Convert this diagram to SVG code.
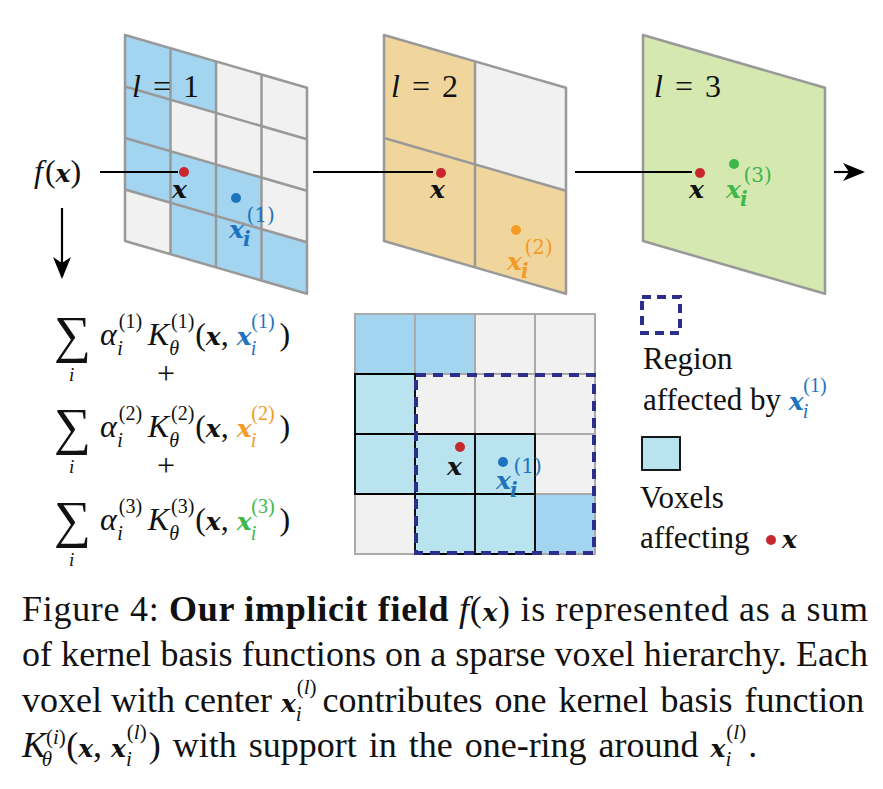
<svg xmlns="http://www.w3.org/2000/svg" width="883" height="789" viewBox="0 0 883 789">
<style>
.g{stroke:#999;stroke-width:2.5;stroke-linejoin:round}
.b{fill:#a3d4f0}.w{fill:#f1f1f1}.o{fill:#f0d69c}.gr{fill:#d4e8b0}.lb{fill:#b9e3ef}
.t{font-family:"Liberation Serif",serif;font-size:31px;fill:#111}
.m{font-family:"Liberation Serif",serif;font-style:italic;font-size:32px;fill:#111}
.bx{font-family:"DejaVu Serif","Liberation Serif",serif;font-style:italic;font-weight:bold;font-size:25px}
.s{font-size:20px;font-style:normal;font-weight:normal}
.si{font-size:20px}
.cap{font-family:"Liberation Serif",serif;font-size:36px;fill:#111}
.ln{stroke:#000;stroke-width:2.2;fill:none}
</style>
<defs>
<marker id="ah2" markerWidth="22" markerHeight="18" refX="20" refY="9" orient="auto" markerUnits="userSpaceOnUse" viewBox="0 0 22 18"><path d="M0,0 L22,9 L0,18 L6,9z" fill="#000"/></marker></defs>

<g id="grid1">
<g transform="matrix(1,0.29,0,1,125,35)">
<rect class="b" x="0" y="0" width="45.5" height="51.5"/><rect class="b" x="45.5" y="0" width="45.5" height="51.5"/><rect class="w" x="91" y="0" width="91" height="51.5"/>
<rect class="b" x="0" y="51.5" width="45.5" height="51.5"/><rect class="w" x="45.5" y="51.5" width="136.5" height="51.5"/>
<rect class="b" x="0" y="103" width="136.5" height="51.5"/><rect class="w" x="136.5" y="103" width="45.5" height="51.5"/>
<rect class="w" x="0" y="154.5" width="45.5" height="51.5"/><rect class="b" x="45.5" y="154.5" width="136.5" height="51.5"/>
<path class="g" fill="none" d="M0,0H182V206H0Z M45.5,0V206 M91,0V206 M136.5,0V206 M0,51.5H182 M0,103H182 M0,154.5H182" vector-effect="non-scaling-stroke"/>
</g>
<text class="m" x="132" y="97" font-size="33">l<tspan font-style="normal" dx="12">=</tspan><tspan font-style="normal" dx="12">1</tspan></text>
</g>

<g id="grid2">
<g transform="matrix(1,0.29,0,1,384,35)">
<rect class="o" x="0" y="0" width="91" height="103"/><rect class="w" x="91" y="0" width="91" height="103"/>
<rect class="o" x="0" y="103" width="182" height="103"/>
<path class="g" fill="none" d="M0,0H182V206H0Z M91,0V206 M0,103H182" vector-effect="non-scaling-stroke"/>
</g>
<text class="m" x="391" y="97" font-size="33">l<tspan font-style="normal" dx="12">=</tspan><tspan font-style="normal" dx="12">2</tspan></text>
</g>

<g id="grid3">
<g transform="matrix(1,0.29,0,1,643,35)">
<rect class="gr g" x="0" y="0" width="182" height="206" vector-effect="non-scaling-stroke"/>
</g>
<text class="m" x="654" y="97" font-size="33">l<tspan font-style="normal" dx="12">=</tspan><tspan font-style="normal" dx="12">3</tspan></text>
</g>

<g id="connectors">
<line class="ln" x1="100" y1="172" x2="178" y2="172"/>
<line class="ln" x1="313" y1="172" x2="433" y2="172"/>
<line class="ln" x1="575" y1="172" x2="692" y2="172"/>
<line class="ln" x1="834" y1="172" x2="863" y2="172" marker-end="url(#ah2)"/>
<line class="ln" x1="62" y1="208" x2="62" y2="277" marker-end="url(#ah2)"/>
</g>

<g id="points">
<circle cx="184" cy="172" r="5" fill="#c8282d"/>
<text class="bx" x="172" y="198" fill="#111">x</text>
<circle cx="236" cy="198" r="5" fill="#1e73be"/>
<text class="bx" x="229" y="238" fill="#1e73be">x<tspan class="si" dx="-1" dy="8">i</tspan><tspan class="s" dx="-4" dy="-24">(1)</tspan></text>
<circle cx="441" cy="173" r="5" fill="#c8282d"/>
<text class="bx" x="430" y="198" fill="#111">x</text>
<circle cx="516" cy="230" r="5" fill="#f39a27"/>
<text class="bx" x="507" y="270" fill="#f39a27">x<tspan class="si" dx="-1" dy="8">i</tspan><tspan class="s" dx="-4" dy="-24">(2)</tspan></text>
<circle cx="700" cy="173" r="5" fill="#c8282d"/>
<text class="bx" x="689" y="198" fill="#111">x</text>
<circle cx="734" cy="164" r="5" fill="#3db74a"/>
<text class="bx" x="726" y="198" fill="#3db74a">x<tspan class="si" dx="-1" dy="8">i</tspan><tspan class="s" dx="-4" dy="-24">(3)</tspan></text>
</g>

<g id="fx"><text class="m" x="34" y="182">f<tspan font-style="normal" dx="2">(</tspan><tspan class="bx">x</tspan><tspan font-style="normal">)</tspan></text></g>

<g id="formulas" class="m">
<g id="f1">
<text x="54" y="352" font-style="normal" font-size="52">∑</text><text x="69" y="381" font-size="19">i</text>
<text x="100" y="345">α<tspan class="s" dx="2" dy="-17">(1)</tspan><tspan class="si" dx="-25" dy="27">i</tspan><tspan dx="25" dy="-10">K</tspan><tspan class="s" dx="2" dy="-17">(1)</tspan><tspan class="si" dx="-25" dy="27">θ</tspan><tspan font-style="normal" dx="16" dy="-10">(</tspan><tspan class="bx">x</tspan><tspan font-style="normal">, </tspan><tspan class="bx" fill="#1e73be">x</tspan><tspan class="si" fill="#1e73be" dx="-1" dy="10">i</tspan><tspan class="s" fill="#1e73be" dx="-5" dy="-27">(1)</tspan><tspan font-style="normal" dx="5" dy="17">)</tspan></text>
</g>
<text x="157" y="384" font-style="normal">+</text>
<g id="f2">
<text x="54" y="444" font-style="normal" font-size="52">∑</text><text x="69" y="473" font-size="19">i</text>
<text x="100" y="437">α<tspan class="s" dx="2" dy="-17">(2)</tspan><tspan class="si" dx="-25" dy="27">i</tspan><tspan dx="25" dy="-10">K</tspan><tspan class="s" dx="2" dy="-17">(2)</tspan><tspan class="si" dx="-25" dy="27">θ</tspan><tspan font-style="normal" dx="16" dy="-10">(</tspan><tspan class="bx">x</tspan><tspan font-style="normal">, </tspan><tspan class="bx" fill="#f39a27">x</tspan><tspan class="si" fill="#f39a27" dx="-1" dy="10">i</tspan><tspan class="s" fill="#f39a27" dx="-5" dy="-27">(2)</tspan><tspan font-style="normal" dx="5" dy="17">)</tspan></text>
</g>
<text x="157" y="476" font-style="normal">+</text>
<g id="f3">
<text x="54" y="537" font-style="normal" font-size="52">∑</text><text x="69" y="566" font-size="19">i</text>
<text x="100" y="530">α<tspan class="s" dx="2" dy="-17">(3)</tspan><tspan class="si" dx="-25" dy="27">i</tspan><tspan dx="25" dy="-10">K</tspan><tspan class="s" dx="2" dy="-17">(3)</tspan><tspan class="si" dx="-25" dy="27">θ</tspan><tspan font-style="normal" dx="16" dy="-10">(</tspan><tspan class="bx">x</tspan><tspan font-style="normal">, </tspan><tspan class="bx" fill="#3db74a">x</tspan><tspan class="si" fill="#3db74a" dx="-1" dy="10">i</tspan><tspan class="s" fill="#3db74a" dx="-5" dy="-27">(3)</tspan><tspan font-style="normal" dx="5" dy="17">)</tspan></text>
</g>
</g>

<g id="grid-flat">
<rect class="w" x="355" y="314" width="240" height="240"/>
<rect class="b" x="355" y="314" width="120" height="60"/>
<rect class="b" x="535" y="494" width="60" height="60"/>
<path class="lb" d="M355,374H415V434H535V554H415V494H355Z"/>
<path fill="none" stroke="#aaa" stroke-width="2" d="M355,314H595V554H355Z M415,314V554 M475,314V554 M535,314V554 M355,374H595 M355,434H595 M355,494H595"/>
<path fill="none" stroke="#000" stroke-width="1.8" d="M355,374H415V434H535V554H415V494H355Z M355,434H415V494 M475,434V554 M415,494H535"/>
<rect x="416" y="375" width="178" height="178" fill="none" stroke="#2b2e8c" stroke-width="4" stroke-dasharray="10,7"/>
<circle cx="460" cy="447" r="5" fill="#c8282d"/>
<text class="bx" x="447" y="475" fill="#111">x</text>
<circle cx="503" cy="462" r="5" fill="#1e73be"/>
<text class="bx" x="496" y="489" fill="#1e73be">x<tspan class="si" dx="-1" dy="8">i</tspan><tspan class="s" dx="-4" dy="-24">(1)</tspan></text>
</g>

<g id="legend">
<rect x="642" y="297" width="38" height="36" fill="none" stroke="#2b2e8c" stroke-width="4" stroke-dasharray="9,6"/>
<text class="t" x="643" y="369">Region</text>
<text class="t" x="643" y="410">affected by <tspan class="bx" fill="#1e73be" font-size="27">x</tspan><tspan class="si" font-style="italic" fill="#1e73be" dx="-1" dy="8">i</tspan><tspan class="s" fill="#1e73be" dx="-5" dy="-26">(1)</tspan></text>
<rect x="642" y="437" width="38" height="33" fill="#b9e3ef" stroke="#000" stroke-width="1.8"/>
<text class="t" x="640" y="508">Voxels</text>
<text class="t" x="640" y="548">affecting</text>
<circle cx="771" cy="540" r="5" fill="#c8282d"/>
<text class="bx" x="782" y="548" fill="#111" font-size="27">x</text>
</g>

<g id="caption" class="cap">
<text x="22" y="621" textLength="846" lengthAdjust="spacing">Figure 4: <tspan font-weight="bold">Our implicit field</tspan> <tspan font-style="italic">f</tspan>(<tspan class="bx" font-size="30">x</tspan>) is represented as a sum</text>
<text x="22" y="666" textLength="846" lengthAdjust="spacing">of kernel basis functions on a sparse voxel hierarchy. Each</text>
<text x="22" y="712">voxel with center <tspan class="bx" font-size="30">x</tspan><tspan font-style="italic" font-size="21" dx="0" dy="9">i</tspan><tspan font-size="21" dx="-5" dy="-27">(<tspan font-style="italic">l</tspan>)</tspan><tspan dx="6" dy="18" word-spacing="3">contributes one kernel basis function</tspan></text>
<text x="22" y="757"><tspan font-style="italic">K</tspan><tspan font-size="21" dy="-13">(<tspan font-style="italic">i</tspan>)</tspan><tspan font-style="italic" font-size="21" dx="-24" dy="22">θ</tspan><tspan dx="14" dy="-9">(</tspan><tspan class="bx" font-size="30">x</tspan>, <tspan class="bx" font-size="30">x</tspan><tspan font-style="italic" font-size="21" dx="0" dy="9">i</tspan><tspan font-size="21" dx="-5" dy="-27">(<tspan font-style="italic">l</tspan>)</tspan><tspan dx="2" dy="18" word-spacing="3">) with support in the one-ring around </tspan><tspan class="bx" font-size="30">x</tspan><tspan font-style="italic" font-size="21" dx="0" dy="9">i</tspan><tspan font-size="21" dx="-5" dy="-27">(<tspan font-style="italic">l</tspan>)</tspan><tspan dx="2" dy="18">.</tspan></text>
</g>
</svg>
